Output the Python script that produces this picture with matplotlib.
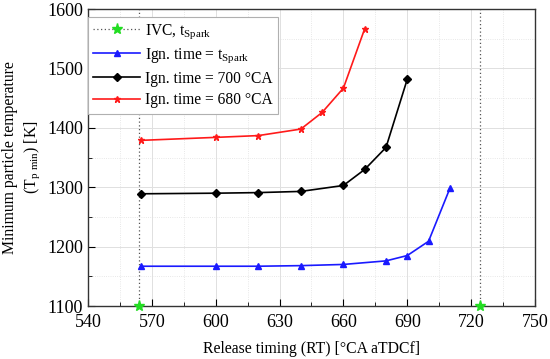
import matplotlib
matplotlib.use("Agg")
import matplotlib.pyplot as plt
from matplotlib.ticker import MultipleLocator
from matplotlib.lines import Line2D

plt.rcParams['font.family'] = ['Liberation Serif', 'DejaVu Serif']
plt.rcParams['mathtext.fontset'] = 'custom'
plt.rcParams['mathtext.rm'] = 'Liberation Serif'

ivc_x = [564, 724]
ivc_y = [1100, 1100]

x_spark = [565, 600, 620, 640, 660, 680, 690, 700, 710]
y_spark = [1167, 1167, 1167, 1168, 1170, 1176, 1185, 1209, 1298]

x_700 = [565, 600, 620, 640, 660, 670, 680, 690]
y_700 = [1289, 1290, 1291, 1293, 1303, 1330, 1367, 1482]

x_680 = [565, 600, 620, 640, 650, 660, 670]
y_680 = [1379, 1384, 1387, 1398, 1426, 1467, 1567]

xticks = [540, 570, 600, 630, 660, 690, 720, 750]
yticks = [1100, 1200, 1300, 1400, 1500, 1600]

fig = plt.figure(figsize=(5.5, 3.59), dpi=100)
ax = fig.add_axes([0.16, 0.1476, 0.8127, 0.827])

ax.set_xlim(540, 750)
ax.set_ylim(1100, 1600)
ax.set_xticks(xticks)
ax.set_yticks(yticks)
ax.xaxis.set_minor_locator(MultipleLocator(15))
ax.yaxis.set_minor_locator(MultipleLocator(50))
ax.grid(True, which='major', color='#e0e0e0', lw=0.7)
ax.grid(True, which='minor', color='#e0e0e0', lw=0.6, ls=':')
ax.set_axisbelow(True)

for xv in ivc_x:
    ax.axvline(xv, color='#555555', ls=(0, (1, 2)), lw=0.9, zorder=2)
ax.plot(ivc_x, ivc_y, ls='none', marker='*', color='#22dd22',
        ms=8, clip_on=False, zorder=5)

ax.plot(x_spark, y_spark, color='#1a1aff', marker='^', ms=5, lw=1.2)
ax.plot(x_700, y_700, color='black', marker='D', ms=4, lw=1.2)
ax.plot(x_680, y_680, color='#ff1a1a', marker='*', ms=4.5, lw=1.2)

handles = [
    Line2D([], [], color='#555555', ls=(0, (1, 2)), lw=0.9, marker='*',
           markerfacecolor='#22dd22', markeredgecolor='#22dd22', ms=8),
    Line2D([], [], color='#1a1aff', marker='^', ms=5, lw=1.2),
    Line2D([], [], color='black', marker='D', ms=4, lw=1.2),
    Line2D([], [], color='#ff1a1a', marker='*', ms=4.5, lw=1.2),
]
labels = [r'IVC, t$_{\mathrm{Spark}}$', r'Ign. time = t$_{\mathrm{Spark}}$',
          'Ign. time = 700 °CA', 'Ign. time = 680 °CA']
leg = ax.legend(handles, labels, loc='upper left', fontsize=11.2, frameon=True,
                fancybox=False, edgecolor='#b0b0b0', framealpha=1,
                handlelength=3.0, handletextpad=0.3, borderpad=0.35,
                labelspacing=0.35, borderaxespad=0.0,
                bbox_to_anchor=(0.0, 0.975))
leg.get_frame().set_linewidth(0.8)

ax.tick_params(which='both', direction='in', labelsize=13, top=False, right=False)
ax.tick_params(which='major', length=5)
ax.tick_params(which='minor', length=3)
ax.tick_params(axis='x', which='major', pad=6)
for s in ax.spines.values():
    s.set_linewidth(1.0)
    s.set_color('#333333')

ax.set_xlabel('Release timing (RT) [°CA aTDCf]', fontsize=11.3, labelpad=7)
ax.set_ylabel('Minimum particle temperature\n' + r'(T$_{\mathrm{p\ min}}$) [K]',
              fontsize=11.3, linespacing=1.3)

fig.savefig('out.png', dpi=100)
